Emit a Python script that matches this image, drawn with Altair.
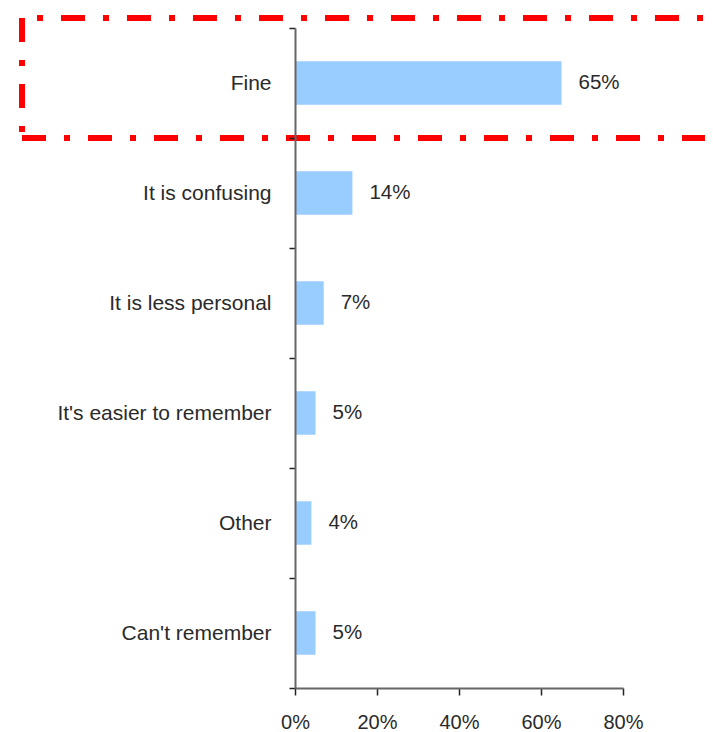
import altair as alt
import pandas as pd

categories = ["Fine", "It is confusing", "It is less personal",
              "It's easier to remember", "Other", "Can't remember"]
values = [65, 14, 7, 5, 4, 5]
x_ticks = [0, 20, 40, 60, 80]

df = pd.DataFrame({"cat": categories, "val": values})
df["label"] = [f"{v}%" for v in values]

FONT = "Liberation Sans"
TEXT = "#2a2a2a"

y_enc = alt.Y(
    "cat:N", sort=categories, title=None,
    scale=alt.Scale(paddingInner=0, paddingOuter=0),
    axis=alt.Axis(tickBand="extent", tickSize=6, labelPadding=18,
                  labelFontSize=21, labelFont=FONT, labelColor=TEXT,
                  domainColor="#666666", domainWidth=2, tickColor="#222222",
                  tickWidth=1.5, labelLimit=400, zindex=1),
)
x_enc = alt.X(
    "val:Q", title=None,
    scale=alt.Scale(domain=[0, 80], nice=False),
    axis=alt.Axis(values=x_ticks, labelExpr="datum.value + '%'", tickSize=7,
                  labelPadding=17, labelFlush=False, grid=False, labelFontSize=20,
                  labelFont=FONT, labelColor=TEXT, domainColor="#666666",
                  domainWidth=2, tickColor="#222222", tickWidth=1.5, zindex=1),
)

base = alt.Chart(df)
bars = base.mark_bar(color="#99CCFF", height=alt.RelativeBandSize(0.395)).encode(x=x_enc, y=y_enc)
labels = base.mark_text(align="left", baseline="middle", dx=17, fontSize=20.5,
                        font=FONT, color=TEXT).encode(
    x="val:Q", y=alt.Y("cat:N", sort=categories), text="label:N")

one = alt.Chart(pd.DataFrame({"a": [0]}))
dash = [24, 18, 6, 18]
red = "#FF0000"
top = one.mark_rule(color=red, strokeWidth=6, strokeDash=dash, strokeDashOffset=24).encode(
    x=alt.value(-276), x2=alt.value(440), y=alt.value(-10))
bottom = one.mark_rule(color=red, strokeWidth=6, strokeDash=dash, strokeDashOffset=0).encode(
    x=alt.value(-273), x2=alt.value(440), y=alt.value(110))
left = one.mark_rule(color=red, strokeWidth=6, strokeDash=dash, strokeDashOffset=63).encode(
    x=alt.value(-273), y=alt.value(-13), y2=alt.value(113))

chart = alt.layer(bars, labels, top, bottom, left).properties(
    width=328, height=660,
    autosize=alt.AutoSizeParams(type="none"),
    padding={"left": 287, "top": 20, "right": 82, "bottom": 44},
).configure_view(stroke=None)

chart.save("out.html", embed_options={"renderer": "svg", "actions": False})
